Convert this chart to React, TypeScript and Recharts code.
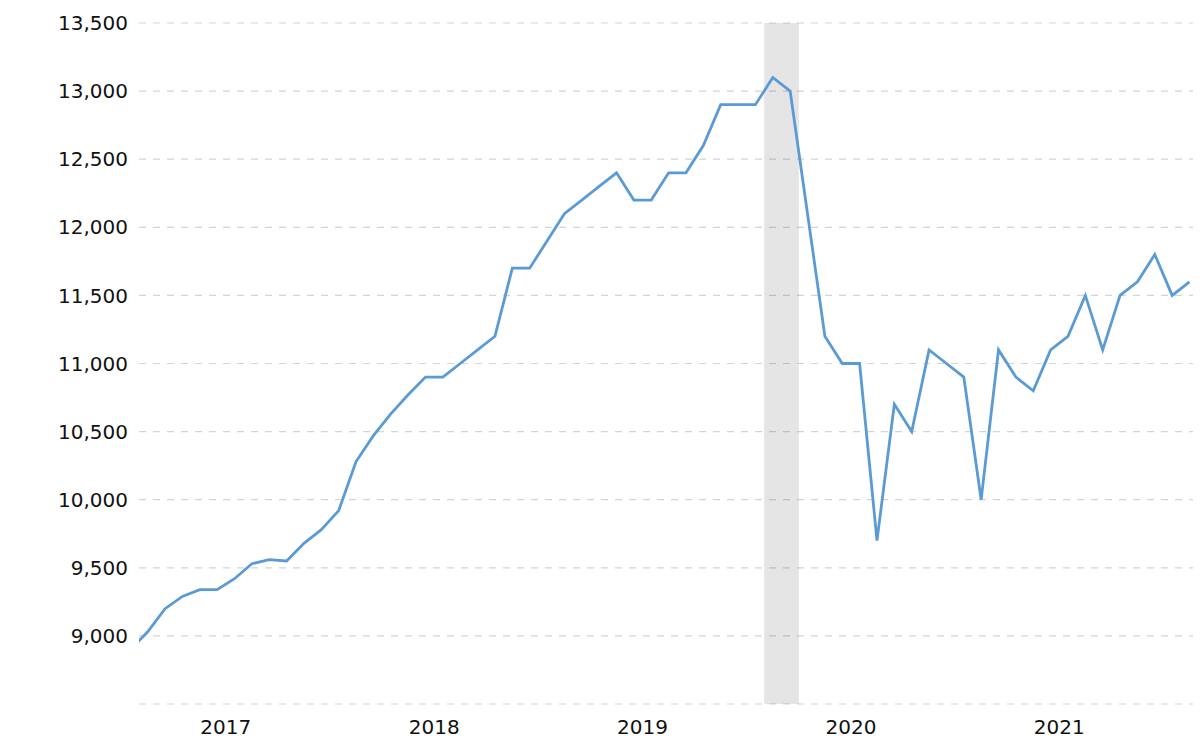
import React from 'react';
import {
  LineChart, Line, XAxis, YAxis, CartesianGrid, ReferenceArea,
} from 'recharts';

// monthly readings, Jul 2016 .. Aug 2021
const months = [
  '2016-07', '2016-08', '2016-09', '2016-10', '2016-11', '2016-12',
  '2017-01', '2017-02', '2017-03', '2017-04', '2017-05', '2017-06',
  '2017-07', '2017-08', '2017-09', '2017-10', '2017-11', '2017-12',
  '2018-01', '2018-02', '2018-03', '2018-04', '2018-05', '2018-06',
  '2018-07', '2018-08', '2018-09', '2018-10', '2018-11', '2018-12',
  '2019-01', '2019-02', '2019-03', '2019-04', '2019-05', '2019-06',
  '2019-07', '2019-08', '2019-09', '2019-10', '2019-11', '2019-12',
  '2020-01', '2020-02', '2020-03', '2020-04', '2020-05', '2020-06',
  '2020-07', '2020-08', '2020-09', '2020-10', '2020-11', '2020-12',
  '2021-01', '2021-02', '2021-03', '2021-04', '2021-05', '2021-06',
  '2021-07', '2021-08',
];

const values = [
  8900, 9030, 9200, 9290, 9340, 9340,
  9420, 9530, 9560, 9550, 9680, 9780,
  9920, 10280, 10470, 10630, 10770, 10900,
  10900, 11000, 11100, 11200, 11700, 11700,
  11900, 12100, 12200, 12300, 12400, 12200,
  12200, 12400, 12400, 12600, 12900, 12900,
  12900, 13100, 13000, 12100, 11200, 11000,
  11000, 9700, 10700, 10500, 11100, 11000,
  10900, 10000, 11100, 10900, 10800, 11100,
  11200, 11500, 11100, 11500, 11600, 11800,
  11500, 11600,
];

const yearTicks = [0, 12, 24, 36, 48];
const yearLabels = ['2017', '2018', '2019', '2020', '2021'];
const valueTicks = [8500, 9000, 9500, 10000, 10500, 11000, 11500, 12000, 12500, 13000, 13500];

// shaded period: Aug 2019 - Sep 2019
const bandStart = '2019-08';
const bandEnd = '2019-10';

// months since Jan 2017, points sit mid-month
const monthPos = (s: string, mid = 0.5) => {
  const [y, m] = s.split('-').map(Number);
  return (y - 2017) * 12 + (m - 1) + mid;
};

const data = months.map((d, i) => ({ m: monthPos(d), value: values[i] }));

const FONT = '"DejaVu Sans", Verdana, sans-serif';

export default function App() {
  return (
    <div style={{ position: 'absolute', left: 0, top: 0, width: 1200, height: 741, background: '#fff' }}>
      <LineChart width={1200} height={741} data={data} margin={{ top: 23, right: 7, bottom: 0, left: 0 }}>
        <CartesianGrid vertical={false} stroke="#d4d4d4" strokeWidth={1.2} strokeDasharray="7 7" />
        <XAxis
          dataKey="m"
          type="number"
          domain={[-5, 55.7]}
          allowDataOverflow
          ticks={yearTicks}
          tickFormatter={(v: number) => yearLabels[yearTicks.indexOf(v)] ?? ''}
          axisLine={false}
          tickLine={false}
          tickSize={0}
          tickMargin={16}
          height={37}
          tick={{ fontSize: 20, fill: '#111', fontFamily: FONT }}
        />
        <YAxis
          type="number"
          domain={[8500, 13500]}
          ticks={valueTicks}
          tickFormatter={(v: number) => (v === 8500 ? '' : v.toLocaleString('en-US'))}
          axisLine={false}
          tickLine={false}
          tickSize={0}
          tickMargin={11}
          width={139}
          tick={{ fontSize: 20, fill: '#111', fontFamily: FONT }}
        />
        <ReferenceArea
          x1={monthPos(bandStart, 0)}
          x2={monthPos(bandEnd, 0)}
          fill="#000"
          fillOpacity={0.1}
          stroke="none"
        />
        <Line
          type="linear"
          dataKey="value"
          stroke="#5b9bd5"
          strokeWidth={2.8}
          dot={false}
          activeDot={false}
          isAnimationActive={false}
        />
      </LineChart>
    </div>
  );
}
